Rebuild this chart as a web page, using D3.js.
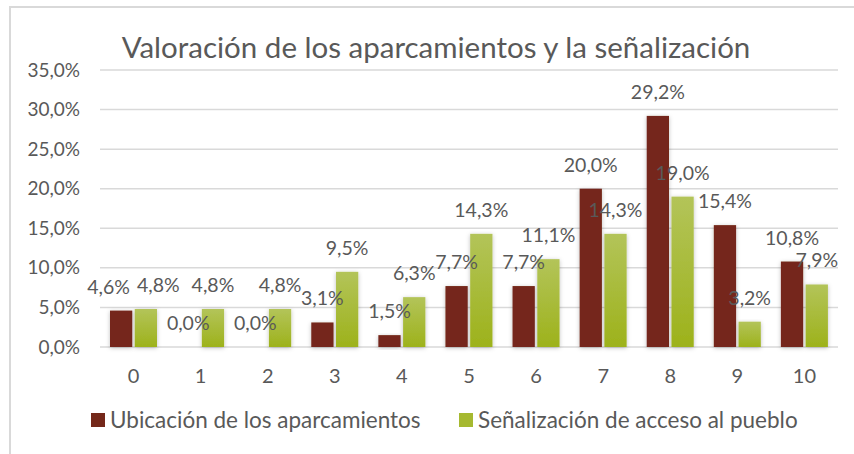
<!DOCTYPE html>
<html>
<head>
<meta charset="utf-8">
<script src="https://cdn.jsdelivr.net/npm/d3@7"></script>
<style>
  body { margin: 0; background: #fff; }
  text { font-family: Lato, "Open Sans", sans-serif; fill: #595959; }
</style>
</head>
<body>
<div id="chart"></div>
<script>
// data
var categories = ["0", "1", "2", "3", "4", "5", "6", "7", "8", "9", "10"]
var seriesNames = ["Ubicación de los aparcamientos", "Señalización de acceso al pueblo"]
var ubicacion = [4.6, 0.0, 0.0, 3.1, 1.5, 7.7, 7.7, 20.0, 29.2, 15.4, 10.8]
var senalizacion = [4.8, 4.8, 4.8, 9.5, 6.3, 14.3, 11.1, 14.3, 19.0, 3.2, 7.9]
var yTicks = [0, 5, 10, 15, 20, 25, 30, 35]
var title = "Valoración de los aparcamientos y la señalización"

var width = 854, height = 454
var svg = d3.select("#chart").append("svg")
    .attr("width", width)
    .attr("height", height)

var defs = svg.append("defs")
var grad = defs.append("linearGradient")
    .attr("id", "greenGrad")
    .attr("x1", 0).attr("y1", 0).attr("x2", 0).attr("y2", 1)
grad.append("stop").attr("offset", "0%").attr("stop-color", "#b3c459")
grad.append("stop").attr("offset", "100%").attr("stop-color", "#9db21b")

var shadow = defs.append("filter").attr("id", "shadow")
    .attr("x", "-30%").attr("y", "-10%").attr("width", "160%").attr("height", "130%")
shadow.append("feDropShadow")
    .attr("dx", 0).attr("dy", 1)
    .attr("stdDeviation", 2)
    .attr("flood-color", "#000")
    .attr("flood-opacity", 0.25)

// outer frame (cut off on the right)
svg.append("path")
    .attr("d", "M10,460 V7 H860")
    .attr("fill", "none")
    .attr("stroke", "#d9d9d9")
    .attr("stroke-width", 2)

var colors = ["#74281a", "url(#greenGrad)"]
var legendColors = ["#74281a", "#a6b930"]

var x0 = d3.scaleBand().domain(categories).range([100, 838])
var x1 = d3.scaleBand().domain([0, 1]).range([10, 57]).paddingInner(0.1)
var y = d3.scaleLinear().domain([0, 35]).range([347, 70])

var fmt = function (v) { return d3.format(".1f")(v).replace(".", ",") + "%" }

// gridlines
svg.append("g")
    .selectAll("line")
    .data(yTicks)
    .join("line")
    .attr("x1", 100).attr("x2", 838)
    .attr("y1", function (d) { return y(d) })
    .attr("y2", function (d) { return y(d) })
    .attr("stroke", "#d9d9d9")
    .attr("stroke-width", 1.5)

// y axis labels
var yAxis = svg.append("g")
    .attr("transform", "translate(100,0)")
    .call(d3.axisLeft(y).tickValues(yTicks).tickFormat(fmt).tickSize(0).tickPadding(20))
yAxis.select(".domain").remove()
yAxis.selectAll("text")
    .attr("fill", "#595959")
    .style("font-size", "19px")
    .style("font-family", "Lato, sans-serif")

// x axis labels
var xAxis = svg.append("g")
    .attr("transform", "translate(0,347)")
    .call(d3.axisBottom(x0).tickSize(0).tickPadding(22))
xAxis.select(".domain").remove()
xAxis.selectAll("text")
    .attr("fill", "#595959")
    .style("font-size", "20px")
    .style("font-family", "Lato, sans-serif")

// bars
var series = [ubicacion, senalizacion]
series.forEach(function (vals, si) {
    var g = svg.append("g")
    g.selectAll("rect")
        .data(vals)
        .join("rect")
        .attr("x", function (d, i) { return x0(categories[i]) + x1(si) })
        .attr("width", x1.bandwidth())
        .attr("y", function (d) { return y(d) })
        .attr("height", function (d) { return y(0) - y(d) })
        .attr("fill", colors[si])
        .attr("filter", "url(#shadow)")
})

// data labels (drawn after all bars so they sit on top)
var labels = []
series.forEach(function (vals, si) {
    var t = svg.append("g")
        .selectAll("text")
        .data(vals)
        .join("text")
        .attr("x", function (d, i) { return x0(categories[i]) + x1(si) + x1.bandwidth() / 2 })
        .attr("y", function (d) { return y(d) - 17 })
        .attr("text-anchor", "middle")
        .style("font-size", "19.5px")
        .text(fmt)
    labels.push(t.nodes())
})

// push apart the two labels of a category when they sit on the same line
categories.forEach(function (c, i) {
    var a = labels[0][i], b = labels[1][i]
    var ya = +a.getAttribute("y"), yb = +b.getAttribute("y")
    if (Math.abs(ya - yb) > 14) return
    var xa = +a.getAttribute("x"), xb = +b.getAttribute("x")
    var wa = a.getComputedTextLength(), wb = b.getComputedTextLength()
    var gap = (xb - wb / 2) - (xa + wa / 2)
    if (gap < 7) {
        var shift = (7 - gap) / 2
        a.setAttribute("x", xa - shift)
        b.setAttribute("x", xb + shift)
    }
})

// title
svg.append("text")
    .attr("x", 436)
    .attr("y", 58)
    .attr("text-anchor", "middle")
    .style("font-size", "29.5px")
    .text(title)

// legend
var legendX = [91, 459]
seriesNames.forEach(function (name, i) {
    svg.append("rect")
        .attr("x", legendX[i]).attr("y", 413)
        .attr("width", 14).attr("height", 14)
        .attr("fill", legendColors[i])
    svg.append("text")
        .attr("x", legendX[i] + 19)
        .attr("y", 428)
        .style("font-size", "22.5px")
        .text(name)
})
</script>
</body>
</html>
